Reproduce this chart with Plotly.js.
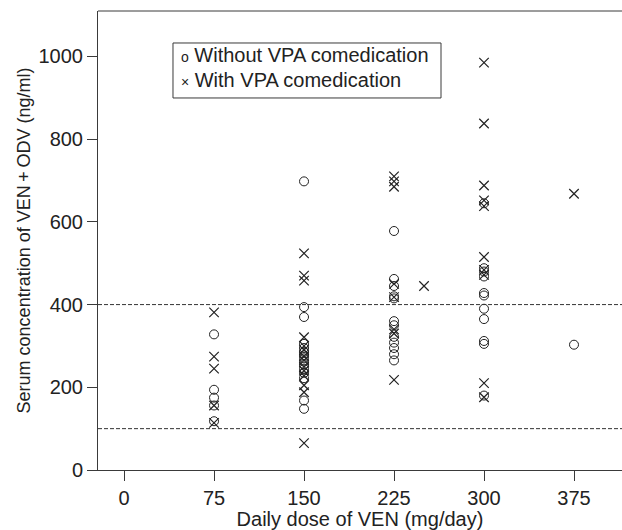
<!DOCTYPE html>
<html>
<head>
<meta charset="utf-8">
<script src="https://cdn.plot.ly/plotly-3.0.1.min.js"></script>
<style>html,body{margin:0;padding:0;background:#fff;}#chart{width:622px;height:530px;}</style>
</head>
<body>
<div id="chart"></div>
<script>
// Daily dose (mg/day) and serum concentration (ng/ml)
const withoutVPA_dose = [
  75,75,75,75,75,
  150,150,150,150,150,150,150,150,150,150,150,150,150,150,150,
  225,225,225,225,225,225,225,225,225,225,225,225,
  300,300,300,300,300,300,300,300,300,300,300,
  375
];
const withoutVPA_conc = [
  328,194,175,156,118,
  698,394,370,305,295,285,278,270,262,255,245,235,222,168,148,
  578,462,445,420,415,360,350,322,308,295,280,265,
  645,488,480,468,428,422,390,365,312,305,180,
  303
];
const withVPA_dose = [
  75,75,75,75,75,
  150,150,150,150,150,150,150,150,150,150,150,150,150,150,
  225,225,225,225,225,225,225,225,
  250,
  300,300,300,300,300,300,300,300,300,300,
  375
];
const withVPA_conc = [
  381,274,245,156,114,
  524,470,458,321,300,290,275,265,250,240,228,205,188,65,
  710,698,685,450,418,340,330,218,
  445,
  985,838,688,652,638,515,484,472,210,176,
  668
];
const xTicks = [0,75,150,225,300,375];
const yTicks = [0,200,400,600,800,1000];
const refLines = [100,400];
const seriesNames = ['Without VPA comedication','With VPA comedication'];

const ink = '#222';
const axisCol = '#3a3a3a';
const fontFam = '"Liberation Sans", Arial, Helvetica, sans-serif';

const traces = [
  {x: withoutVPA_dose, y: withoutVPA_conc, name: seriesNames[0], type:'scatter', mode:'markers',
   marker:{symbol:'circle-open', size:9, color:ink, line:{width:1, color:ink}}, showlegend:false},
  {x: withVPA_dose, y: withVPA_conc, name: seriesNames[1], type:'scatter', mode:'markers',
   marker:{symbol:'x-thin-open', size:9.5, color:ink, line:{width:1.2, color:ink}}, showlegend:false}
];

const shapes = refLines.map(v => ({type:'line', xref:'paper', x0:0, x1:1, yref:'y', y0:v, y1:v,
  line:{color:'#333', width:1, dash:'4px,2px'}}));
shapes.push({type:'line', xref:'paper', yref:'paper', x0:0, x1:1, y0:1, y1:1, line:{color:axisCol, width:1}});
shapes.push({type:'rect', xref:'paper', yref:'paper', x0:0.1431, x1:0.6546, y0:0.8105, y1:0.9303,
  line:{color:axisCol, width:1}, fillcolor:'rgba(0,0,0,0)'});

const layout = {
  width:622, height:530,
  margin:{l:98, r:0, t:11, b:60},
  paper_bgcolor:'#fff', plot_bgcolor:'#fff',
  font:{family:fontFam, size:20, color:ink},
  showlegend:false,
  xaxis:{range:[-21.7,415], tickvals:xTicks, ticktext:xTicks.map(String), ticks:'outside', ticklen:10,
    tickcolor:axisCol, showline:true, linecolor:axisCol, linewidth:1, showgrid:false, zeroline:false,
    tickfont:{size:20}, title:{text:'Daily dose of VEN (mg/day)', font:{size:20}, standoff:6}},
  yaxis:{range:[0,1110], tickvals:yTicks, ticktext:yTicks.map(String), ticks:'outside', ticklen:10,
    tickcolor:axisCol, showline:true, linecolor:axisCol, linewidth:1, showgrid:false, zeroline:false,
    tickfont:{size:20}, title:{text:'Serum concentration of VEN\u2009+\u2009ODV (ng/ml)', font:{size:18}, standoff:3}},
  shapes:shapes,
  annotations:[
    {xref:'paper', yref:'paper', x:0.1545, y:0.904, xanchor:'left', yanchor:'middle', showarrow:false,
     align:'left', font:{size:20, color:ink}, text:'<span style="font-size:14px">o</span> ' + seriesNames[0]},
    {xref:'paper', yref:'paper', x:0.1545, y:0.850, xanchor:'left', yanchor:'middle', showarrow:false,
     align:'left', font:{size:20, color:ink}, text:'<span style="font-size:14px">\u00d7</span> ' + seriesNames[1]}
  ]
};

Plotly.newPlot('chart', traces, layout, {displayModeBar:false, staticPlot:true});
</script>
</body>
</html>
